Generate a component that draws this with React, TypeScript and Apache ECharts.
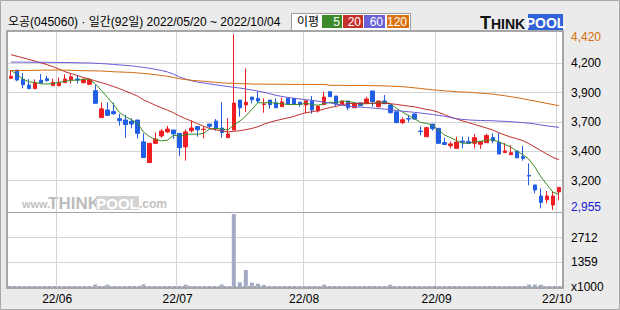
import React, { useEffect, useRef } from "react";
import * as echarts from "echarts";

const FONT = "'Liberation Sans', 'Noto Sans CJK KR', sans-serif";

// trading days (category axis)
const tradingDays: [string, number[]][] = [
  ["2022/05", [20, 23, 24, 25, 26, 27, 30, 31]],
  ["2022/06", [2, 3, 7, 8, 9, 10, 13, 14, 15, 16, 17, 20, 21, 22, 23, 24, 27, 28, 29, 30]],
  ["2022/07", [1, 4, 5, 6, 7, 8, 11, 12, 13, 14, 15, 18, 19, 20, 21, 22, 25, 26, 27, 28, 29]],
  ["2022/08", [1, 2, 3, 4, 5, 8, 9, 10, 11, 12, 16, 17, 18, 19, 22, 23, 24, 25, 26, 29, 30, 31]],
  ["2022/09", [1, 2, 5, 6, 7, 8, 13, 14, 15, 16, 19, 20, 21, 22, 23, 26, 27, 28, 29, 30]],
  ["2022/10", [4]],
];
const dates: string[] = tradingDays.flatMap(([m, ds]) =>
  ds.map((d) => `${m}/${String(d).padStart(2, "0")}`)
);

const opens = [
  4051, 4120, 4043, 3996, 3965, 4035, 4047, 3990, 3990, 4015,
  4037, 4046, 4015, 4001, 3948, 3724, 3787, 3774, 3715, 3704,
  3693, 3704, 3522, 3350, 3510, 3571, 3605, 3621, 3593, 3480,
  3615, 3649, 3624, 3670, 3695, 3637, 3557, 3621, 3870, 3830,
  3895, 3884, 3834, 3870, 3848, 3815, 3884, 3884, 3853, 3829,
  3862, 3779, 3832, 3940, 3904, 3836, 3862, 3806, 3847, 3840,
  3946, 3815, 3862, 3829, 3773, 3682, 3715, 3754, 3612, 3565,
  3670, 3635, 3516, 3490, 3468, 3528, 3524, 3510, 3502, 3515,
  3558, 3519, 3433, 3415, 3446, 3399, 3243, 3163, 3071, 3040,
  2996, 3105,
];
const closes = [
  4068, 4037, 3998, 3965, 4015, 4012, 4032, 4017, 4017, 4046,
  4064, 4037, 4043, 4037, 3843, 3797, 3743, 3757, 3699, 3666,
  3671, 3593, 3391, 3510, 3545, 3612, 3629, 3588, 3474, 3605,
  3637, 3623, 3628, 3652, 3635, 3600, 3588, 3845, 3806, 3852,
  3873, 3862, 3838, 3832, 3806, 3855, 3837, 3836, 3833, 3864,
  3787, 3820, 3895, 3898, 3836, 3862, 3806, 3843, 3823, 3879,
  3857, 3862, 3840, 3765, 3682, 3706, 3712, 3712, 3608, 3640,
  3632, 3510, 3500, 3505, 3520, 3518, 3510, 3557, 3526, 3575,
  3530, 3421, 3447, 3432, 3390, 3385, 3237, 3121, 3017, 3071,
  3071, 3143,
];
const lows = [
  4045, 4028, 3968, 3965, 3965, 4012, 4025, 3990, 3984, 4015,
  4008, 4008, 4009, 3995, 3843, 3724, 3740, 3746, 3657, 3557,
  3635, 3550, 3391, 3348, 3504, 3557, 3595, 3546, 3403, 3366,
  3600, 3565, 3551, 3630, 3614, 3558, 3557, 3621, 3732, 3770,
  3843, 3848, 3765, 3798, 3806, 3815, 3837, 3832, 3815, 3760,
  3757, 3766, 3832, 3898, 3812, 3830, 3787, 3806, 3823, 3840,
  3815, 3810, 3837, 3759, 3682, 3670, 3685, 3710, 3576, 3565,
  3615, 3510, 3498, 3468, 3468, 3468, 3504, 3468, 3464, 3515,
  3510, 3421, 3433, 3415, 3385, 3365, 3160, 3093, 2968, 3010,
  2955, 3035,
];
const highs = [
  4120, 4120, 4095, 4045, 4043, 4087, 4071, 4048, 4058, 4085,
  4095, 4079, 4051, 4051, 3996, 3849, 3851, 3849, 3755, 3746,
  3718, 3704, 3593, 3510, 3600, 3628, 3655, 3621, 3593, 3625,
  3700, 3652, 3648, 3670, 3712, 3851, 3718, 4420, 3870, 4134,
  3895, 3942, 3884, 3870, 3884, 3890, 3884, 3884, 3853, 3864,
  3904, 3821, 3940, 3940, 3904, 3865, 3862, 3848, 3847, 3898,
  3946, 3866, 3912, 3837, 3773, 3726, 3746, 3759, 3650, 3648,
  3670, 3635, 3557, 3525, 3565, 3565, 3565, 3587, 3529, 3590,
  3593, 3596, 3512, 3494, 3446, 3488, 3343, 3163, 3135, 3113,
  3113, 3143,
];
// volume, x1000 shares
const volumes = [
  8, 7, 6, 9, 6, 7, 6, 5, 7, 6,
  8, 6, 5, 9, 110, 9, 105, 8, 7, 9,
  8, 10, 115, 11, 9, 8, 7, 7, 8, 100,
  9, 8, 7, 10, 9, 110, 11, 4010, 230, 913,
  210, 150, 90, 11, 9, 8, 7, 7, 6, 8,
  9, 10, 100, 9, 8, 7, 6, 7, 7, 8,
  9, 8, 10, 100, 9, 8, 7, 7, 8, 9,
  8, 10, 9, 8, 7, 7, 8, 9, 8, 7,
  8, 10, 9, 8, 9, 11, 105, 110, 100, 11,
  10, 12,
];
// moving averages: leading values (before enough in-range closes)
const ma5Lead = [4118, 4080, 4045, 4022];
const ma20Lead = [
  4248, 4235, 4222, 4208, 4194, 4180, 4165, 4147, 4128, 4106,
  4090, 4075, 4058, 4045, 4030, 4016, 4000, 3984, 3965,
];
const ma60 = [
  4186, 4186, 4186, 4185, 4185, 4185, 4184, 4184, 4183, 4183,
  4182, 4181, 4180, 4179, 4177, 4174, 4171, 4167, 4163, 4159,
  4155, 4149, 4142, 4135, 4126, 4116, 4104, 4086, 4062, 4045,
  4031, 4020, 4012, 4005, 3997, 3990, 3983, 3977, 3970, 3962,
  3954, 3945, 3935, 3923, 3910, 3900, 3892, 3885, 3879, 3873,
  3868, 3861, 3853, 3845, 3837, 3828, 3820, 3815, 3811, 3808,
  3804, 3800, 3795, 3790, 3784, 3778, 3773, 3768, 3762, 3756,
  3750, 3743, 3735, 3725, 3715, 3709, 3705, 3702, 3700, 3699,
  3698, 3695, 3693, 3690, 3686, 3682, 3678, 3671, 3663, 3655,
  3649, 3643,
];
const ma120 = [
  4116, 4116, 4117, 4117, 4118, 4119, 4120, 4120, 4120, 4119,
  4118, 4116, 4115, 4114, 4113, 4112, 4109, 4106, 4104, 4102,
  4100, 4096, 4092, 4088, 4082, 4075, 4068, 4058, 4048, 4041,
  4035, 4031, 4027, 4022, 4018, 4013, 4011, 4009, 4007, 4006,
  4004, 4003, 4003, 4002, 4002, 4002, 4001, 4001, 4001, 4001,
  4000, 4000, 4000, 3993, 3993, 3993, 3992, 3992, 3991, 3991,
  3990, 3990, 3988, 3986, 3984, 3982, 3977, 3972, 3967, 3961,
  3955, 3951, 3947, 3944, 3940, 3937, 3935, 3932, 3928, 3924,
  3920, 3913, 3906, 3898, 3890, 3881, 3872, 3862, 3852, 3842,
  3833, 3823,
];
// axis ticks
const priceGridValues = [4176, 3932, 3688, 3444, 3200];
const priceTickLabels = ["4,200", "3,900", "3,700", "3,400", "3,200"];
const volTickValues = [0, 1356, 2712];
const volTickLabels = ["x1000", "1359", "2712"];
const legendItems = [
  { label: "5", color: "#3c8a2a" },
  { label: "20", color: "#c4302a" },
  { label: "60", color: "#6c62d8" },
  { label: "120", color: "#db7212" },
];

const UP = "#f01e23";
const DOWN = "#1f5ee5";
const GRID = "#d4d4d4";
const MA_COLORS = ["#3b8b23", "#bf2f2a", "#6a5bd8", "#d4690f"];

function movingAvg(n: number, lead: number[]): number[] {
  return closes.map((_, i) => {
    if (i < n - 1) return lead[i];
    let s = 0;
    for (let k = i - n + 1; k <= i; k++) s += closes[k];
    return Math.round(s / n);
  });
}

const isMonthStart = (i: number) =>
  i > 0 && dates[i].slice(0, 7) !== dates[i - 1].slice(0, 7);

export default function App() {
  const ref = useRef<HTMLDivElement>(null);
  useEffect(() => {
    if (!ref.current) return;
    const chart = echarts.init(ref.current, undefined, { renderer: "svg" });
    const candles = dates.map((_, i) => [opens[i], closes[i], lows[i], highs[i]]);
    const ma5 = movingAvg(5, ma5Lead);
    const ma20 = movingAvg(20, ma20Lead);
    const maxHigh = Math.max(...highs);
    const minLow = Math.min(...lows);
    const fmt = (v: number) => v.toLocaleString("en-US");

    const legendX = [322, 343, 364, 387];
    const legendW = [20, 20, 21, 22];

    const option: any = {
      animation: false,
      backgroundColor: "#ebebeb",
      textStyle: { fontFamily: FONT },
      grid: [
        { left: 8, top: 32, width: 554, height: 180, show: false, outerBoundsMode: "none" },
        { left: 8, top: 213, width: 554, height: 73.5, show: false, outerBoundsMode: "none" },
      ],
      xAxis: [
        {
          type: "category",
          gridIndex: 0,
          data: dates,
          axisLine: { show: false },
          axisTick: { show: false },
          axisLabel: { show: false },
          splitLine: { show: true, interval: (i: number) => isMonthStart(i), lineStyle: { color: GRID, width: 1 } },
        },
        {
          type: "category",
          gridIndex: 1,
          data: dates,
          axisLine: { show: true, lineStyle: { color: "#9aa2bc", width: 1, type: [3, 2] } },
          axisTick: { show: false },
          axisLabel: {
            interval: (i: number) => isMonthStart(i),
            formatter: (v: string) => v.slice(2, 7),
            color: "#000",
            fontSize: 12,
            fontFamily: FONT,
            margin: 6,
            padding: [0, 4, 0, 0],
          },
          splitLine: { show: true, interval: (i: number) => isMonthStart(i), lineStyle: { color: GRID, width: 1 } },
        },
      ],
      yAxis: [
        { type: "value", gridIndex: 0, min: 2938, max: 4437, show: false, position: "right" },
        {
          type: "value",
          gridIndex: 1,
          min: 0,
          max: 4068,
          interval: 1356,
          position: "right",
          axisLine: { show: false },
          axisTick: { show: false },
          axisLabel: {
            color: "#000",
            fontSize: 12,
            fontFamily: FONT,
            margin: 9,
            showMaxLabel: false,
            formatter: (v: number) => {
              const k = volTickValues.indexOf(v);
              return k >= 0 ? volTickLabels[k] : "";
            },
          },
          splitLine: { show: true, showMinLine: false, showMaxLine: false, lineStyle: { color: GRID, width: 1 } },
        },
      ],
      series: [
        {
          type: "candlestick",
          xAxisIndex: 0,
          yAxisIndex: 0,
          data: candles,
          barWidth: 4,
          clip: false,
          silent: true,
          itemStyle: { color: UP, color0: DOWN, borderColor: UP, borderColor0: DOWN, borderWidth: 1 },
          markLine: {
            silent: true,
            z: 1,
            animation: false,
            symbol: ["none", "none"],
            lineStyle: { color: GRID, width: 1, type: "solid" },
            label: { show: true, position: "end", distance: 9, color: "#000", fontSize: 12, fontFamily: FONT, formatter: "{b}" },
            emphasis: { disabled: true },
            data: [
              ...priceGridValues.map((v, k) => ({ name: priceTickLabels[k], yAxis: v })),
              {
                name: fmt(maxHigh),
                yAxis: maxHigh,
                lineStyle: { color: "rgba(0,0,0,0)", width: 0 },
                label: { show: true, color: "#d9700a", offset: [0, 3] },
              },
              {
                name: fmt(minLow),
                yAxis: minLow,
                lineStyle: { color: "rgba(0,0,0,0)", width: 0 },
                label: { show: true, color: "#1818d0", offset: [0, -3] },
              },
            ],
          },
        },
        ...[ma5, ma20, ma60, ma120].map((d, k) => ({
          type: "line",
          xAxisIndex: 0,
          yAxisIndex: 0,
          data: d,
          symbol: "none",
          silent: true,
          z: 3,
          lineStyle: { color: MA_COLORS[k], width: 1 },
        })),
        {
          type: "bar",
          xAxisIndex: 1,
          yAxisIndex: 1,
          data: volumes,
          barWidth: 4,
          silent: true,
          itemStyle: { color: "#a3abc4" },
        },
      ],
      graphic: [
        { type: "rect", z: -1, silent: true, shape: { x: 7, y: 31, width: 556, height: 257 }, style: { fill: "#ffffff" } },
        { type: "rect", z: 50, silent: true, shape: { x: 7, y: 31, width: 556, height: 257 }, style: { fill: "none", stroke: "#a6a6a6", lineWidth: 2 } },
        { type: "line", z: 50, silent: true, shape: { x1: 7, y1: 212.5, x2: 563, y2: 212.5 }, style: { stroke: "#a6a6a6", lineWidth: 1 } },
        { type: "rect", z: 50, silent: true, shape: { x: 0.5, y: 0.5, width: 619, height: 309 }, style: { fill: "none", stroke: "#a9a9a9", lineWidth: 1 } },
        {
          type: "text",
          x: 8,
          y: 22,
          silent: true,
          style: { text: "오공(045060) · 일간(92일) 2022/05/20 ~ 2022/10/04", fill: "#000", fontSize: 12, fontFamily: FONT, verticalAlign: "middle" },
        },
        { type: "rect", silent: true, shape: { x: 291.5, y: 13.5, width: 119, height: 17 }, style: { fill: "#fff", stroke: "#9c9c9c", lineWidth: 1 } },
        { type: "text", x: 297, y: 22, silent: true, style: { text: "이평", fill: "#000", fontSize: 12, fontFamily: FONT, verticalAlign: "middle" } },
        ...legendItems.flatMap((it, k) => [
          { type: "rect", silent: true, shape: { x: legendX[k], y: 15, width: legendW[k], height: 13 }, style: { fill: it.color } },
          {
            type: "text",
            x: legendX[k] + legendW[k] - 2,
            y: 22,
            silent: true,
            style: { text: it.label, fill: "#fff", fontSize: 12, fontFamily: FONT, align: "right", verticalAlign: "middle" },
          },
        ]),
        // logo
        { type: "text", x: 480, y: 22.5, silent: true, style: { text: "T", fill: "#111", fontSize: 18, fontWeight: 900, fontFamily: FONT, verticalAlign: "middle" } },
        { type: "text", x: 491, y: 23.5, silent: true, style: { text: "HINK", fill: "#111", fontSize: 14, fontWeight: 900, fontFamily: FONT, verticalAlign: "middle" } },
        { type: "rect", silent: true, shape: { x: 528, y: 14, width: 35, height: 16 }, style: { fill: "#2f62d8" } },
        { type: "text", x: 545.5, y: 22.5, silent: true, style: { text: "POOL", fill: "#fff", fontSize: 14, fontWeight: 900, fontFamily: FONT, align: "center", verticalAlign: "middle" } },
        // watermark
        { type: "text", x: 22, y: 204, silent: true, style: { text: "www.", fill: "#c2c2c2", fontSize: 11, fontWeight: "bold", fontFamily: FONT, verticalAlign: "middle" } },
        { type: "text", x: 48, y: 203, silent: true, style: { text: "THINK", fill: "#bcbcbc", fontSize: 17, fontWeight: 900, fontFamily: FONT, verticalAlign: "middle" } },
        { type: "rect", silent: true, shape: { x: 96, y: 196, width: 43, height: 14 }, style: { fill: "#d3d3d3" } },
        { type: "text", x: 117.5, y: 203.5, silent: true, style: { text: "POOL", fill: "#fff", fontSize: 15, fontWeight: 900, fontFamily: FONT, align: "center", verticalAlign: "middle" } },
        { type: "text", x: 139, y: 204, silent: true, style: { text: ".com", fill: "#c2c2c2", fontSize: 12, fontWeight: "bold", fontFamily: FONT, verticalAlign: "middle" } },
      ],
    };
    chart.setOption(option);
    return () => chart.dispose();
  }, []);
  return <div ref={ref} style={{ position: "fixed", left: 0, top: 0, width: 620, height: 310 }} />;
}
